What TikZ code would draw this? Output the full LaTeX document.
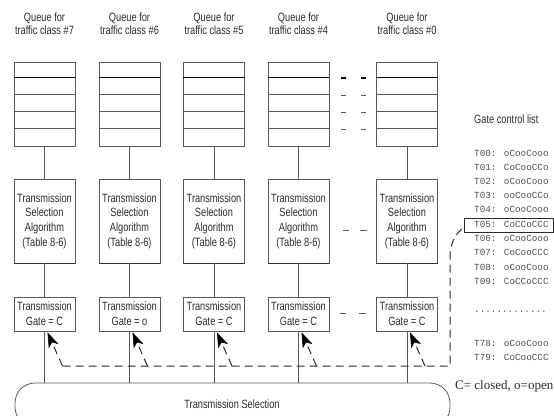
\documentclass[tikz,border=0pt]{standalone}
\usepackage{fontspec}
\setmainfont{Liberation Sans}[FakeStretch=0.77]
\newfontfamily\listfont{Liberation Mono}
\newfontfamily\notefont{Liberation Serif}
\usetikzlibrary{arrows.meta,calc}
\definecolor{edge}{HTML}{5A5A5A}
\definecolor{ink}{HTML}{2B2B2B}
\definecolor{listink}{HTML}{505050}
\definecolor{ctrlink}{HTML}{2A2A2A}

\begin{document}
\begin{tikzpicture}[x=1pt,y=-1pt,
  every node/.style={text=ink, font=\fontsize{12}{13.5}\selectfont},
  box/.style={draw=edge, line width=0.8pt, minimum width=61pt, inner sep=0pt, align=center},
  queuebox/.style={box, minimum height=84pt},
  algobox/.style={box, minimum height=84pt, font=\fontsize{12}{14.6}\selectfont},
  gatebox/.style={box, minimum height=34pt, font=\fontsize{12}{15}\selectfont},
  link/.style={draw=edge, line width=0.8pt},
  ctrl/.style={draw=ctrlink, line width=1pt, dash pattern=on 8pt off 5pt},
  ptr/.style={ctrl, -{Stealth[length=15pt,width=10.5pt,inset=4pt,color=black,fill=black,line width=0.5pt]}},
  gap/.style={draw=edge, line width=0.8pt},
  listline/.style={anchor=west, text=listink, inner sep=0pt,
    font=\listfont\fontsize{9.3}{11}\selectfont},
]
\useasboundingbox (0,0) rectangle (554,415);
\clip (0,0) rectangle (554,415);

% shared selection stage at the bottom
\node[draw=edge, line width=0.8pt, rounded corners=20pt,
      minimum width=435pt, minimum height=44pt, inner sep=0pt] (sel) at (232.5,405) {};
\node (seltext) at (232,404) {Transmission Selection};

% one column per traffic class
\foreach \cls/\cx/\gst in {7/44.5/C, 6/129.5/o, 5/214/C, 4/298.5/C, 0/407/C} {
  \node[align=center] (lab\cls) at (\cx,23.5) {Queue for\\traffic class \#\cls};
  \node[queuebox] (q\cls) at (\cx,104) {};
  \node[algobox] (a\cls) at (\cx,221) {Transmission\\Selection\\Algorithm\\(Table 8-6)};
  \node[gatebox] (g\cls) at (\cx,314) {Transmission\\Gate = \gst};
  % queue slots
  \draw[black, line width=1.3pt] ($(q\cls.north west)+(0,16)$) -- ($(q\cls.north east)+(0,16)$);
  \foreach \dy in {33,50,67}
    \draw[edge, line width=0.8pt] ($(q\cls.north west)+(0,\dy)$) -- ($(q\cls.north east)+(0,\dy)$);
  % heavier lower edge of the algorithm box
  \draw[black!80, line width=1.3pt] (a\cls.south west) -- (a\cls.south east);
  % data path
  \draw[link] (q\cls) -- (a\cls);
  \draw[link] (a\cls) -- (g\cls);
  \draw[link] (g\cls.south) -- (g\cls.south |- sel.north);
  % gate control taps
  \coordinate (b\cls) at (\cx+18,366);
  \coordinate (t\cls) at ($(g\cls.south)+(3,1)$);
  \draw[ptr] (b\cls) -- (t\cls);
}

% elided columns between #4 and #0
\draw[black, line width=1.3pt] (341,78) -- (346,78) (361,78) -- (366,78);
\foreach \yy in {95,112,129}
  \draw[gap] (341,\yy) -- (346,\yy) (361,\yy) -- (366,\yy);
\draw[gap] (343,230) -- (349,230) (360,230) -- (367,230);
\draw[gap] (340,313) -- (346,313) (359,313) -- (366,313);

% gate control list
\node[anchor=west, inner sep=0pt] (gcl) at (474,119) {Gate control list};
\foreach \lab/\pat/\yy in {T00/oCooCooo/153, T01/CoCooCCo/167.2, T02/oCooCooo/181.4,
    T03/ooCooCCo/195.6, T04/oCooCooo/209.8, T05/CoCCoCCC/224.5, T06/oCooCooo/238.6,
    T07/CoCooCCC/252.8, T08/oCooCooo/267, T09/CoCCoCCC/281.2, T78/oCooCooo/343,
    T79/CoCooCCC/357.5}
  \node[listline] (ln\lab) at (474,\yy) {\lab: \pat};
\node[listline] (lndots) at (474,312) {.............};

% current entry
\node[draw=ctrlink, line width=0.7pt, anchor=west, minimum width=89pt,
      minimum height=14.5pt, inner sep=0pt] (cur) at (464,225.5) {};

% control path from the current entry to every gate
\coordinate (turn) at (450,366);
\coordinate (rise) at (450,258);
\draw[ctrl] (b7) -- (turn) -- (rise) .. controls (450,242) and (456,233) .. ($(cur.west)+(0,2)$);

\node[anchor=west, inner sep=0pt, font=\notefont\fontsize{13}{15}\selectfont] (legend)
  at (455,386) {C= closed, o=open};
\end{tikzpicture}
\end{document}
